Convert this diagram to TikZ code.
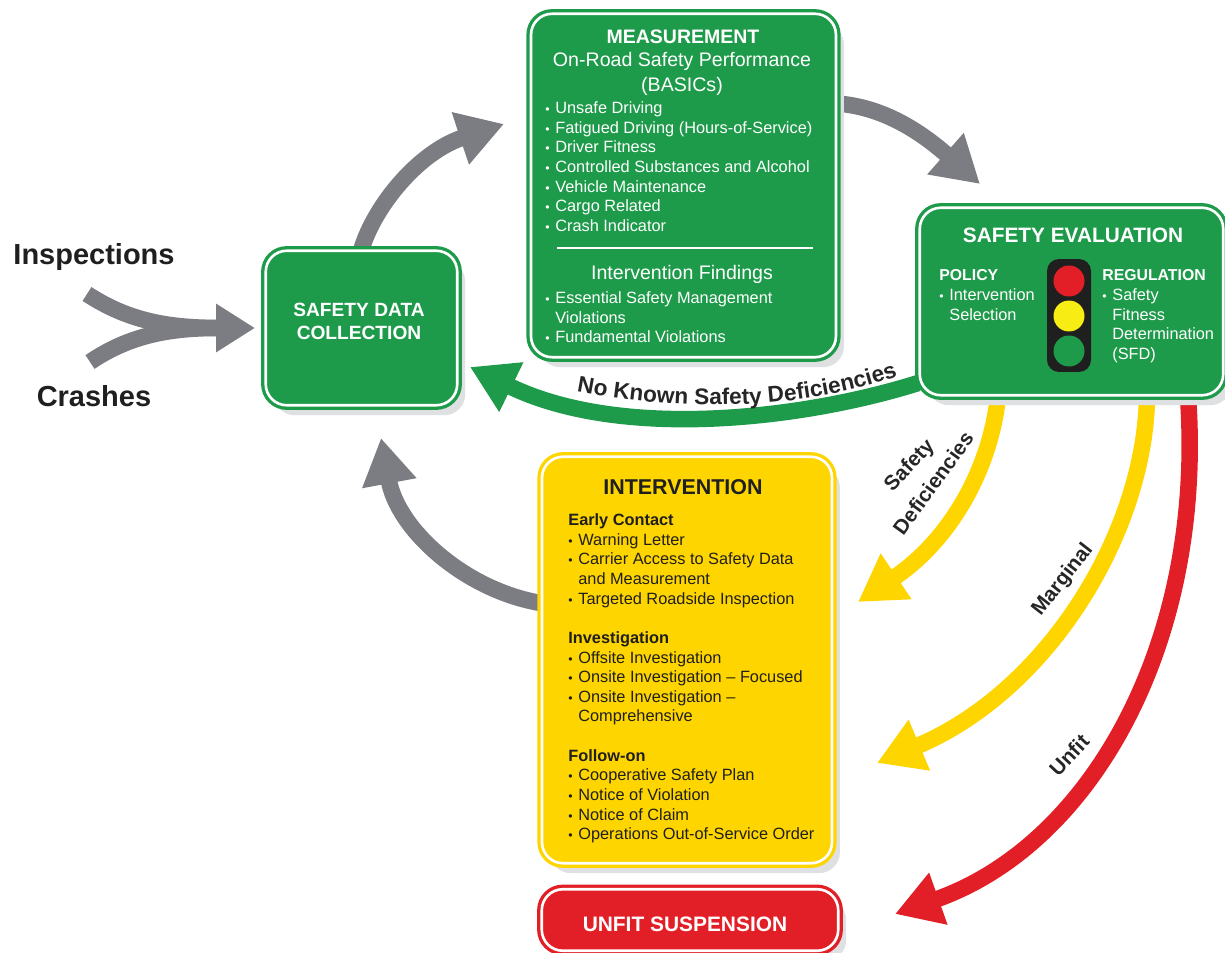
\documentclass[tikz,border=0pt]{standalone}
\usepackage{fontspec}
\setmainfont{Liberation Sans}
\usetikzlibrary{arrows.meta,shadows,decorations.text}
\pgfdeclarelayer{background}
\pgfsetlayers{background,main}
\definecolor{signgreen}{HTML}{1E9B4A}
\definecolor{signyellow}{HTML}{FFD500}
\definecolor{signred}{HTML}{E21F26}
\definecolor{flowgray}{HTML}{7C7D82}
\definecolor{shadowgray}{HTML}{DFE0E2}
\definecolor{lampyellow}{HTML}{F7EC13}
\newcommand{\itm}{\makebox[0.2cm][l]{\scriptsize\textbullet}}
\newcommand{\hng}{\hspace*{0.2cm}}
\tikzset{
  signbox/.style={draw=#1,fill=#1,line width=1.9pt,double=white,double distance=1.5pt,rounded corners=0.42cm,inner sep=0pt,
    drop shadow={shadow xshift=0.16cm,shadow yshift=-0.2cm,fill=shadowgray,opacity=1}},
  flow/.style={line width=0.33cm,draw=#1,-{Triangle[length=0.92cm,width=1.04cm,fill=#1]}},
  flow/.default=flowgray,
  lamp/.style={circle,fill=#1,minimum size=0.62cm,inner sep=0pt},
  itemtext/.style={inner sep=0pt,anchor=north west,align=left,font=\fontsize{9.3}{11.17}\selectfont},
  whitetext/.style={text=white},
  headtext/.style={inner sep=0pt,align=center,font=\fontsize{#1}{13}\selectfont\bfseries},
  subtext/.style={inner sep=0pt,align=center,font=\fontsize{11.15}{14.2}\selectfont,text=white},
  bandtext/.style={inner sep=0pt,font=\fontsize{11.8}{12}\selectfont\bfseries,text=black!85},
}
\begin{document}
\begin{tikzpicture}[x=0.02cm,y=-0.02cm]
\useasboundingbox (0,0) rectangle (1225,953);
%boxes
\node[signbox=signgreen,minimum width=6.1cm,minimum height=6.87cm] (measure) at (683.5,185.5) {};
\node[signbox=signgreen,minimum width=3.83cm,minimum height=3.09cm] (collect) at (361.5,328) {};
\node[signbox=signgreen,minimum width=6.07cm,minimum height=3.75cm] (evaluate) at (1071.5,301.5) {};
\node[signbox=signyellow,minimum width=5.8cm,minimum height=8.13cm] (intervene) at (687,660) {};
\node[signbox=signred,minimum width=5.93cm,minimum height=1.23cm] (suspend) at (690,920) {};
%collection
\node[headtext=10.9,text=white] (collecttext) at (359,321) {SAFETY DATA\\COLLECTION};
%measurement
\node[headtext=11.1,text=white] (measuretitle) at (683,37) {MEASUREMENT};
\node[subtext] (measuresub) at (682,73.5) {On-Road Safety Performance\\(BASICs)};
\node[itemtext,whitetext] (basics) at (545,101.5) {\itm Unsafe Driving\\\itm Fatigued Driving (Hours-of-Service)\\\itm Driver Fitness\\\itm Controlled Substances and Alcohol\\\itm Vehicle Maintenance\\\itm Cargo Related\\\itm Crash Indicator};
\coordinate (rulea) at (557,248);
\coordinate (ruleb) at (813,248);
\draw[white,line width=0.8pt] (rulea) -- (ruleb);
\node[subtext] (findingstitle) at (682,274) {Intervention Findings};
\node[itemtext,whitetext] (findings) at (545,291.5) {\itm Essential Safety Management\\\hng Violations\\\itm Fundamental Violations};
%evaluation
\node[headtext=11.85,text=white] (evaluatetitle) at (1073,235) {SAFETY EVALUATION};
\node[headtext=9,text=white,anchor=west] (policyhead) at (939,275) {POLICY};
\node[itemtext,whitetext] (policy) at (939,288.5) {\itm Intervention\\\hng Selection};
\node[headtext=9,text=white,anchor=west] (regulationhead) at (1102,275) {REGULATION};
\node[itemtext,whitetext] (regulation) at (1102,288.5) {\itm Safety\\\hng Fitness\\\hng Determination\\\hng (SFD)};
\node[fill=black!88,rounded corners=0.24cm,minimum width=0.88cm,minimum height=2.26cm,inner sep=0pt] (light) at (1069,315.5) {};
\node[lamp=signred] (redlamp) at (1069,281) {};
\node[lamp=lampyellow] (yellowlamp) at (1069,316) {};
\node[lamp=signgreen] (greenlamp) at (1069,351) {};
%intervention
\node[headtext=12.2,text=black!88] (intervenetitle) at (683,487) {INTERVENTION};
\node[itemtext,text=black!88] (steps) at (568,513.5) {\textbf{Early Contact}\\\itm Warning Letter\\\itm Carrier Access to Safety Data\\\hng and Measurement\\\itm Targeted Roadside Inspection\\[11.17pt]\textbf{Investigation}\\\itm Offsite Investigation\\\itm Onsite Investigation -- Focused\\\itm Onsite Investigation --\\\hng Comprehensive\\[11.17pt]\textbf{Follow-on}\\\itm Cooperative Safety Plan\\\itm Notice of Violation\\\itm Notice of Claim\\\itm Operations Out-of-Service Order};
\node[headtext=11.9,text=white] (suspendtext) at (685,924) {UNFIT SUSPENSION};
%left labels
\node[inner sep=0pt,font=\fontsize{16.5}{18}\selectfont\bfseries,text=black!88] (inspections) at (94,257) {Inspections};
\node[inner sep=0pt,font=\fontsize{16.5}{18}\selectfont\bfseries,text=black!88] (crashes) at (94,396) {Crashes};
%arrow ends
\coordinate (inspectstart) at (87,294);
\coordinate (crashstart) at (90,362);
\coordinate (merge) at (222,328);
\coordinate (collecttip) at (255,328);
\coordinate (measuretip) at (504,124);
\coordinate (evaluatetip) at (980,184);
\coordinate (collecttipb) at (381,438);
\coordinate (collecttipc) at (470,367);
\coordinate (safetytip) at (858,602);
\coordinate (marginaltip) at (877,763);
\coordinate (unfittip) at (895,914);
\begin{pgfonlayer}{background}
\draw[flowgray,line width=0.33cm] (inspectstart) .. controls (130,322) and (170,328) .. (merge);
\draw[flow,-{Triangle[length=0.78cm,width=0.92cm,fill=flowgray]}] (crashstart) .. controls (130,335) and (170,328) .. (collecttip);
\draw[flow] (collect.north) .. controls (375,205) and (419,152) .. (measuretip);
\draw[flow] (measure.28) .. controls (868,106) and (905,118) .. (evaluatetip);
\draw[flow] (intervene.west |- 0,603) .. controls (465,590) and (398,530) .. (collecttipb);
\draw[flow=signgreen] (evaluate.208) .. controls (800,420) and (620,440) .. (collecttipc);
\draw[flow=signyellow] (evaluate.south -| 998,0) .. controls (990,470) and (950,540) .. (safetytip);
\draw[flow=signyellow] (evaluate.south -| 1147,0) .. controls (1145,530) and (1050,690) .. (marginaltip);
\draw[flow=signred] (evaluate.south -| 1188,0) .. controls (1205,640) and (1093,844) .. (unfittip);
\end{pgfonlayer}
%arrow labels
\coordinate (nkstart) at (570,390);
\coordinate (nkend) at (904,374);
\path[decorate,decoration={text along path,text align=center,text={|\fontsize{12.9}{13}\selectfont\bfseries\color{black!85}|No Known Safety Deficiencies}}] (nkstart) .. controls (680,412) and (800,412) .. (nkend);
\node[bandtext,rotate=47] (safetylabel) at (910,466) {Safety};
\node[bandtext,rotate=54] (deficlabel) at (933,483) {Deficiencies};
\node[bandtext,rotate=52] (marginallabel) at (1063,580) {Marginal};
\node[bandtext,rotate=47] (unfitlabel) at (1069,755) {Unfit};
\end{tikzpicture}
\end{document}
